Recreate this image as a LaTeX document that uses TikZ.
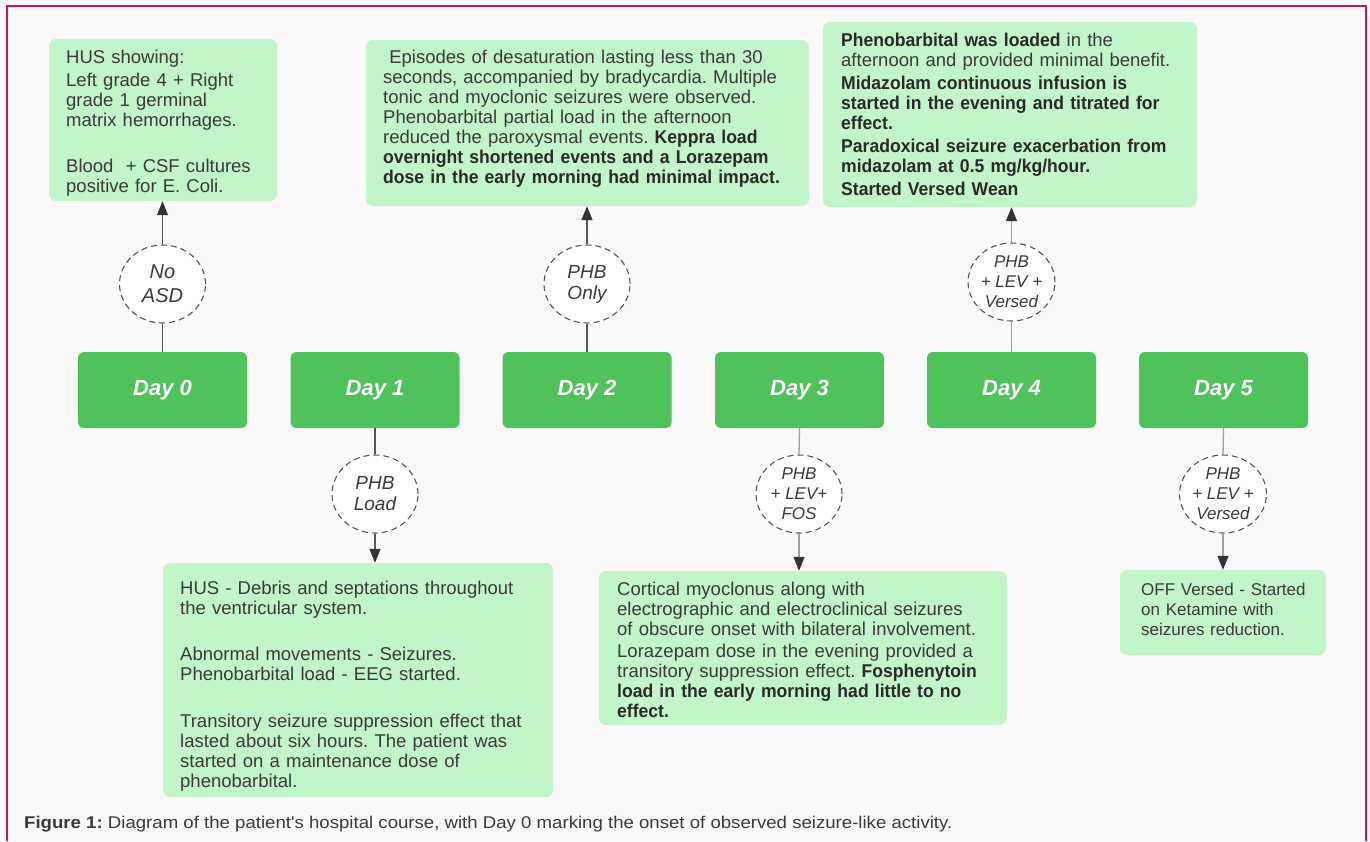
\documentclass[tikz,border=0pt]{standalone}
\usepackage{fontspec}
\setmainfont{Liberation Sans}
\usetikzlibrary{arrows.meta,shapes.geometric}
\definecolor{dgreen}{HTML}{4FC25C}
\definecolor{lgreen}{HTML}{C2F5C7}
\definecolor{bgc}{HTML}{FBF8FA}
\definecolor{framec}{HTML}{C8174A}
\definecolor{txt}{HTML}{3A3A3A}
\definecolor{btxt}{HTML}{2A2A2A}
\definecolor{lineD}{HTML}{555555}
\definecolor{lineL}{HTML}{A0A0A0}
\definecolor{arrc}{HTML}{333333}
\newcommand\bfx[1]{{\bfseries\addfontfeature{FakeStretch=0.95}\color{btxt}#1}}
\frenchspacing
\begin{document}
\begin{tikzpicture}[x=1pt,y=-1pt,
  daybox/.style={rectangle, rounded corners=6pt, fill=dgreen, minimum width=169pt, minimum height=76pt, inner sep=0pt, text=white, font=\fontsize{22}{24}\selectfont\bfseries\itshape},
  infobox/.style={rectangle, rounded corners=7pt, fill=lgreen, inner sep=0pt},
  infotext/.style={anchor=base west, inner sep=0pt, align=left, text width=420pt, text=txt, font=\fontsize{18.5}{20}\selectfont},
  drug/.style={ellipse, draw=lineD, line width=1.1pt, dash pattern=on 6pt off 4pt, fill=white, minimum width=86pt, minimum height=78pt, inner sep=0pt, align=center, text=txt},
  twoline/.style={font=\itshape\fontsize{19}{21}\selectfont},
  threeline/.style={font=\itshape\fontsize{17}{20}\selectfont},
  conn/.style={draw=lineD, line width=1.3pt},
  connl/.style={draw=lineL, line width=1.3pt},
  tip/.style={-{Triangle[length=14pt,width=11pt,color=arrc]}}
]
\useasboundingbox (0,0) rectangle (1370,841);
\fill[white] (0,0) rectangle (1370,841);
\fill[bgc] (7,6) rectangle (1366,841);
\draw[framec, line width=2pt] (7,841) -- (7,6) -- (1366,6) -- (1366,841);

% day boxes
\node[daybox] (d0) at (162.5,390) {Day 0};
\node[daybox] (d1) at (375,390) {Day 1};
\node[daybox] (d2) at (587,390) {Day 2};
\node[daybox] (d3) at (799.5,390) {Day 3};
\node[daybox] (d4) at (1011.5,390) {Day 4};
\node[daybox] (d5) at (1223.5,390) {Day 5};

% info boxes
\node[infobox, minimum width=228pt, minimum height=162pt] (b0) at (163,120) {};
\node[infobox, minimum width=443pt, minimum height=166pt] (b2) at (587.5,123) {};
\node[infobox, minimum width=374pt, minimum height=185pt] (b4) at (1010,114.5) {};
\node[infobox, minimum width=390pt, minimum height=234pt] (b1) at (358,680) {};
\node[infobox, minimum width=408pt, minimum height=154pt] (b3) at (803,648) {};
\node[infobox, minimum width=206pt, minimum height=85pt] (b5) at (1223,612.5) {};

% texts
\node[infotext] (t0) at (66,63) {HUS showing:\\[3pt]
Left grade 4 + Right\\
grade 1 germinal\\
matrix hemorrhages.\\[26pt]
Blood\ \ + CSF cultures\\
positive for E. Coli.};

\node[infotext] (t2) at (383,63) {\ Episodes of desaturation lasting less than 30\\
seconds, accompanied by bradycardia. Multiple\\
tonic and myoclonic seizures were observed.\\
Phenobarbital partial load in the afternoon\\
reduced the paroxysmal events. \bfx{Keppra load}\\
\bfx{overnight shortened events and a Lorazepam}\\
\bfx{dose in the early morning had minimal impact.}};

\node[infotext] (t4) at (841,46) {\bfx{Phenobarbital was loaded} in the\\
afternoon and provided minimal benefit.\\[3pt]
\bfx{Midazolam continuous infusion is}\\
\bfx{started in the evening and titrated for}\\
\bfx{effect.}\\[3pt]
\bfx{Paradoxical seizure exacerbation from}\\
\bfx{midazolam at 0.5 mg/kg/hour.}\\[3pt]
\bfx{Started Versed Wean}};

\node[infotext] (t1) at (180,594) {HUS - Debris and septations throughout\\
the ventricular system.\\[26pt]
Abnormal movements - Seizures.\\
Phenobarbital load - EEG started.\\[27pt]
Transitory seizure suppression effect that\\
lasted about six hours. The patient was\\
started on a maintenance dose of\\
phenobarbital.};

\node[infotext] (t3) at (617,595) {Cortical myoclonus along with\\
electrographic and electroclinical seizures\\
of obscure onset with bilateral involvement.\\[2pt]
Lorazepam dose in the evening provided a\\
transitory suppression effect. \bfx{Fosphenytoin}\\
\bfx{load in the early morning had little to no}\\
\bfx{effect.}};

\node[infotext, font=\fontsize{17}{20}\selectfont] (t5) at (1141,595) {OFF Versed - Started\\
on Ketamine with\\
seizures reduction.};

% drug circles
\node[drug, font=\itshape\fontsize{20}{24}\selectfont] (c0) at (162.5,284) {No\\ASD};
\node[drug, twoline] (c2) at (587,284) {PHB\\Only};
\node[drug, threeline] (c4) at (1011.5,282) {PHB\\+ LEV +\\Versed};
\node[drug, twoline] (c1) at (375,494) {PHB\\Load};
\node[drug, threeline] (c3) at (799,494) {PHB\\+ LEV+\\FOS};
\node[drug, threeline] (c5) at (1223,494) {PHB\\+ LEV +\\Versed};

% connectors
\draw[conn] (d0.north) -- (c0.south);
\draw[conn, tip] (c0.north) -- (c0.north |- b0.south);
\draw[conn] (d2.north) -- (c2.south);
\draw[conn, tip] (c2.north) -- (c2.north |- b2.south);
\draw[connl] (d4.north) -- (c4.south);
\draw[connl, tip] (c4.north) -- (c4.north |- b4.south);
\draw[conn] (d1.south) -- (c1.north);
\draw[conn, tip] (c1.south) -- (c1.south |- b1.north);
\draw[connl] (d3.south) -- (c3.north);
\draw[connl, tip] (c3.south) -- (c3.south |- b3.north);
\draw[connl] (d5.south) -- (c5.north);
\draw[connl, tip] (c5.south) -- (c5.south |- b5.north);

% caption
\node[anchor=base west, inner sep=0pt, text=txt, font=\fontsize{17}{19}\selectfont] (cap) at (24,828) {\scalebox{1.095}[1]{\textbf{Figure 1:} Diagram of the patient\textquotesingle s hospital course, with Day 0 marking the onset of observed seizure-like activity.}};
\end{tikzpicture}
\end{document}
